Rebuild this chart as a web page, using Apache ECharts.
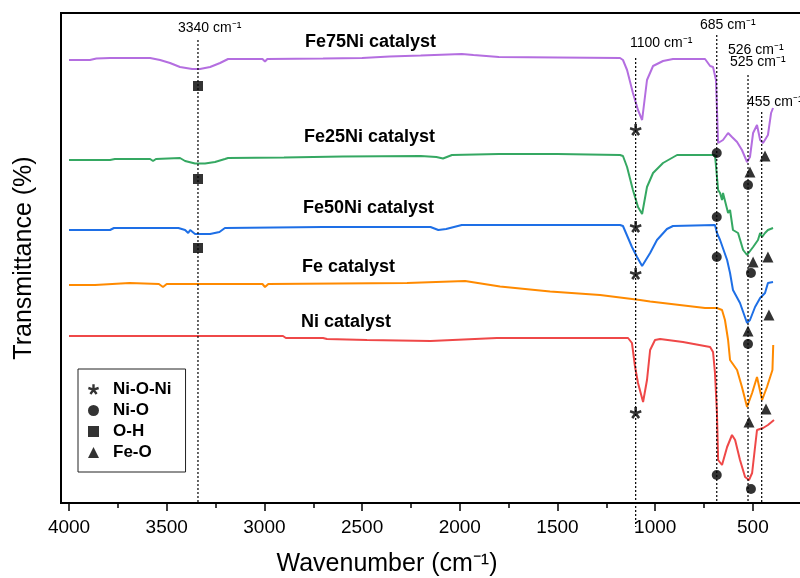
<!DOCTYPE html>
<html>
<head>
<meta charset="utf-8">
<script src="https://cdn.jsdelivr.net/npm/echarts@6/dist/echarts.min.js"></script>
<style>
  html, body { margin: 0; padding: 0; background: #fff; }
  #chart { width: 800px; height: 578px; }
</style>
</head>
<body>
<div id="chart"></div>
<script>
// FTIR spectra of the catalysts: [wavenumber (cm-1), transmittance (a.u., offset per sample)]
const fe75ni = [[4000,88.6],[3893,88.6],[3860,88.9],[3790,89.0],[3585,89.0],[3534,88.6],[3483,88.0],[3432,87.2],[3370,86.8],[3330,86.8],[3278,87.2],[3227,88.0],[3186,88.8],[3010,88.8],[2997,88.3],[2985,88.8],[2700,88.9],[2500,89.0],[2360,89.3],[2200,89.5],[1990,89.8],[1930,89.6],[1800,89.2],[1500,89.1],[1180,89.0],[1165,88.6],[1144,86.6],[1114,82.0],[1088,78.6],[1067,76.6],[1042,84.6],[1011,87.4],[960,88.4],[909,88.8],[745,88.8],[719,87.4],[704,87.2],[689,84.6],[678,72.0],[653,72.6],[627,74.0],[607,73.2],[581,72.2],[556,70.6],[530,68.2],[515,69.2],[499,74.0],[479,75.6],[463,72.6],[448,72.0],[423,73.6],[407,78.0],[397,79.0]];
const fe25ni = [[4000,68.6],[3790,68.6],[3765,68.8],[3585,68.8],[3570,68.4],[3555,68.8],[3432,69.0],[3406,68.4],[3355,67.9],[3304,67.9],[3253,68.2],[3202,68.8],[3186,69.0],[2900,69.1],[2600,69.3],[2200,69.4],[2120,69.2],[2086,68.9],[2040,69.6],[1800,69.8],[1500,69.8],[1180,69.6],[1165,69.4],[1144,67.2],[1114,62.6],[1088,59.2],[1067,57.8],[1042,63.2],[1011,66.0],[960,68.0],[888,69.6],[694,69.6],[689,69.2],[678,62.6],[668,62.0],[658,60.6],[653,62.0],[643,61.6],[627,58.0],[617,58.6],[602,54.6],[576,54.0],[550,50.6],[530,49.6],[499,51.2],[474,52.6],[463,54.0],[453,53.2],[438,54.0],[423,54.6],[397,55.0]];
const fe50ni = [[4000,54.6],[3790,54.6],[3770,55.0],[3440,55.0],[3406,54.6],[3390,54.0],[3380,54.6],[3355,53.8],[3278,53.8],[3230,54.2],[3202,55.0],[2700,55.2],[2150,55.2],[2110,54.6],[2070,54.8],[1990,55.6],[1180,55.6],[1165,55.4],[1119,51.2],[1093,49.2],[1067,47.4],[1026,50.0],[991,52.6],[940,54.8],[909,55.4],[694,55.6],[684,54.0],[668,52.6],[658,52.4],[632,48.6],[617,46.0],[602,42.6],[566,40.0],[530,36.0],[515,36.6],[489,39.2],[463,41.0],[438,42.0],[423,44.0],[397,44.2]];
const feOnly = [[4000,43.6],[3867,43.6],[3860,44.0],[3690,44.0],[3680,43.8],[3540,43.8],[3519,43.2],[3500,43.8],[3010,43.8],[2997,43.2],[2980,43.8],[2270,44.0],[1973,44.4],[1794,43.3],[1538,42.3],[1282,41.6],[1078,40.6],[1026,40.3],[745,39.0],[684,39.0],[658,38.6],[643,36.6],[627,32.6],[617,28.6],[581,26.6],[556,23.2],[530,19.2],[504,22.0],[479,25.2],[453,20.6],[428,23.2],[400,26.6],[396,31.6]];
const niOnly = [[4000,33.4],[2905,33.4],[2890,33.0],[2700,33.0],[2680,32.8],[2475,32.6],[2150,32.4],[1810,33.0],[1139,33.0],[1119,32.0],[1103,27.2],[1088,24.0],[1062,20.2],[1042,24.6],[1026,30.6],[1001,32.6],[975,32.8],[858,32.2],[719,31.2],[704,30.2],[694,26.0],[684,18.0],[678,8.6],[658,7.6],[632,11.2],[607,13.6],[591,12.6],[566,8.6],[540,5.2],[520,4.6],[504,6.0],[489,11.2],[479,14.6],[448,15.0],[423,15.6],[392,16.6]];

const sampleNames = ['Fe75Ni catalyst', 'Fe25Ni catalyst', 'Fe50Ni catalyst', 'Fe catalyst', 'Ni catalyst'];

// Band assignments marked under the absorption bands
const bandNiONi = [[1100,74.6],[1100,55.2],[1100,45.8],[1100,18.0]];
const bandNiO = [[685,70.0],[685,57.2],[685,49.2],[685,5.6],[525,63.6],[510,46.0],[525,31.8],[510,2.8]];
const bandOH = [[3340,83.4],[3340,64.8],[3340,51.0]];
const bandFeO = [[515,66.2],[438,69.4],[499,48.2],[423,49.2],[525,34.4],[418,37.6],[520,16.2],[433,18.8]];
const bandNames = ['Ni-O-Ni', 'Ni-O', 'O-H', 'Fe-O'];

// Reference band positions (cm-1) with dotted guide lines
const bandPositions = [3340, 1100, 685, 525, 455];
const bandLabels = ['3340 cm\u207B\u00B9', '1100 cm\u207B\u00B9', '685 cm\u207B\u00B9', '526 cm\u207B\u00B9', '525 cm\u207B\u00B9', '455 cm\u207B\u00B9'];

const xMajorTicks = [500, 1000, 1500, 2000, 2500, 3000, 3500, 4000];
const xMinorTicks = [750, 1250, 1750, 2250, 2750, 3250, 3750];

const FONT = '"Liberation Sans", Arial, Helvetica, sans-serif';
const lineColors = ['#b46ee0', '#35a862', '#1e6fe6', '#ff8a00', '#ef4848'];

// guide line extents (top of each dotted line, bottom end)
const guideTop = [92.6, 89.0, 93.6, 85.6, 78.2];
const guideBottom = [0, -4.8, 0, 0, 0];

// bold five-armed asterisk
const asteriskPath = 'path://M60,52L60,4L40,4L40,52Z M53,59L96,45L90,26L47,40Z M42,56L68,92L84,80L58,44Z M42,44L16,80L32,92L58,56Z M53,40L10,26L4,45L47,59Z';

const chart = echarts.init(document.getElementById('chart'), null, { renderer: 'canvas' });

const spectra = [fe75ni, fe25ni, fe50ni, feOnly, niOnly];
const series = [];

spectra.forEach((d, i) => {
  series.push({
    name: sampleNames[i],
    type: 'line',
    data: d,
    symbol: 'none',
    showSymbol: false,
    lineStyle: { color: lineColors[i], width: 2 },
    z: 2,
    silent: true
  });
});

bandPositions.forEach((p, i) => {
  series.push({
    type: 'line',
    data: [[p, guideTop[i]], [p, guideBottom[i]]],
    symbol: 'none',
    clip: false,
    lineStyle: { color: '#000', width: 1.2, type: [2, 2] },
    z: 3,
    silent: true
  });
});

const markerDefs = [
  { name: bandNames[0], data: bandNiONi, symbol: asteriskPath, size: 12 },
  { name: bandNames[1], data: bandNiO, symbol: 'circle', size: 10 },
  { name: bandNames[2], data: bandOH, symbol: 'rect', size: 10 },
  { name: bandNames[3], data: bandFeO, symbol: 'triangle', size: 11 }
];
markerDefs.forEach(m => {
  series.push({
    name: m.name,
    type: 'scatter',
    data: m.data,
    symbol: m.symbol,
    symbolSize: m.size,
    itemStyle: { color: '#000' },
    z: 5,
    silent: true
  });
});

const textEl = (text, x, y, font, extra) => Object.assign({
  type: 'text', x: x, y: y, silent: true,
  style: { text: text, font: font, fill: '#000', textAlign: 'left', textVerticalAlign: 'middle' }
}, extra || {});

const labelFont = 'bold 18px ' + FONT;
const bandFont = '14px ' + FONT;

const graphics = [
  textEl(sampleNames[0], 305, 42, labelFont),
  textEl(sampleNames[1], 304, 137, labelFont),
  textEl(sampleNames[2], 303, 208, labelFont),
  textEl(sampleNames[3], 302, 267, labelFont),
  textEl(sampleNames[4], 301, 322, labelFont),
  textEl(bandLabels[0], 178, 28, bandFont),
  textEl(bandLabels[1], 630, 43, bandFont),
  textEl(bandLabels[2], 700, 25, bandFont),
  textEl(bandLabels[3], 728, 50, bandFont),
  textEl(bandLabels[4], 730, 62, bandFont),
  textEl(bandLabels[5], 747, 102, bandFont),
  {
    type: 'text', x: 24, y: 258, rotation: Math.PI / 2, silent: true,
    style: { text: 'Transmittance (%)', font: '25px ' + FONT, fill: '#000', textAlign: 'center', textVerticalAlign: 'middle' }
  },
  {
    type: 'text', x: 387, y: 564, silent: true,
    style: { text: 'Wavenumber (cm\u207B\u00B9)', font: '25px ' + FONT, fill: '#000', textAlign: 'center', textVerticalAlign: 'middle' }
  }
];

chart.setOption({
  animation: false,
  backgroundColor: '#fff',
  grid: {
    left: 61, top: 13, width: 789.6, height: 490,
    containLabel: false,
    outerBoundsMode: 'none',
    show: true, borderColor: '#000', borderWidth: 2, backgroundColor: 'transparent'
  },
  legend: {
    data: bandNames,
    orient: 'vertical',
    left: 78, top: 369,
    itemWidth: 11, itemHeight: 11, itemGap: 4,
    padding: [12, 14, 11, 10],
    borderColor: '#222', borderWidth: 1,
    selectedMode: false,
    textStyle: { fontSize: 17, fontWeight: 'bold', color: '#000', fontFamily: FONT, lineHeight: 17, padding: [0, 0, 0, 9] }
  },
  xAxis: [
    {
      type: 'value', inverse: true, min: 0, max: 4041, position: 'bottom',
      axisLine: { show: true, lineStyle: { color: '#000', width: 2 } },
      axisTick: { show: true, inside: false, length: 8, customValues: xMajorTicks, lineStyle: { color: '#000', width: 1.5 } },
      axisLabel: { customValues: xMajorTicks, fontSize: 19, color: '#000', fontFamily: FONT, margin: 15, formatter: v => String(v) },
      splitLine: { show: false }
    },
    {
      type: 'value', inverse: true, min: 0, max: 4041, position: 'bottom',
      axisLine: { show: false },
      axisTick: { show: true, inside: false, length: 5, customValues: xMinorTicks, lineStyle: { color: '#000', width: 1.5 } },
      axisLabel: { show: false },
      splitLine: { show: false }
    }
  ],
  yAxis: {
    type: 'value', min: 0, max: 98,
    axisLine: { show: true, lineStyle: { color: '#000', width: 2 } },
    axisTick: { show: false },
    axisLabel: { show: false },
    splitLine: { show: false }
  },
  series: series,
  graphic: graphics
});
</script>
</body>
</html>
